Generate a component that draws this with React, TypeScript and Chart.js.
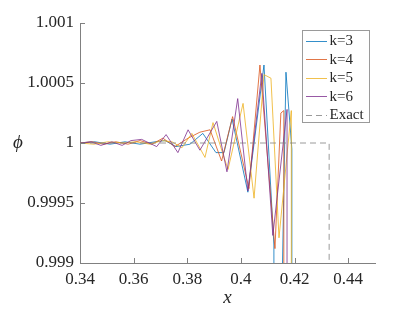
import { useEffect, useRef } from 'react';
import { Chart, registerables } from 'chart.js';
Chart.register(...registerables);

const FONT = '"Liberation Serif", "Times New Roman", serif';
const AXIS = '#808080';
const TEXT = '#262626';

const xTickValues = [0.34, 0.36, 0.38, 0.40, 0.42, 0.44];
const xTickLabels = ['0.34', '0.36', '0.38', '0.4', '0.42', '0.44'];
const yTickValues = [0.999, 0.9995, 1, 1.0005, 1.001];
const yTickLabels = ['0.999', '0.9995', '1', '1.0005', '1.001'];

const seriesNames = ['k=3', 'k=4', 'k=5', 'k=6', 'Exact'];
const seriesColors = ['#0072BD', '#D95319', '#EDB120', '#7E2F8E', '#808080'];

const k3X = [0.3400, 0.3456, 0.3512, 0.3568, 0.3624, 0.3680, 0.3717, 0.3758, 0.3810, 0.3858, 0.3907, 0.3937, 0.3967, 0.4026, 0.4086, 0.4123, 0.4134, 0.4147, 0.4168, 0.4190, 0.4198];
const k3Y = [1.0, 1.00001, 0.99999, 1.00001, 0.99999, 1.00001, 1.00002, 0.99997, 0.99999, 1.00008, 0.99992, 0.99992, 1.0002, 0.99959, 1.00065, 0.99915, 0, 0.998, 1.00059, 0.99995, 0];

const k4X = [0.3400, 0.3445, 0.3489, 0.3534, 0.3579, 0.3624, 0.3668, 0.3709, 0.3754, 0.3803, 0.3847, 0.3885, 0.3928, 0.3969, 0.4030, 0.4071, 0.4127, 0.4149, 0.4160, 0.4164];
const k4Y = [1.0, 1.00001, 0.99999, 1.00001, 0.99999, 1.00002, 0.99999, 1.00004, 0.99997, 1.00004, 1.00009, 1.00011, 0.99985, 1.00022, 0.99962, 1.00065, 0.99912, 1.00025, 1.00027, 0];

const k5X = [0.3400, 0.3452, 0.3504, 0.3557, 0.3609, 0.3661, 0.3706, 0.3743, 0.3780, 0.3817, 0.3866, 0.3896, 0.3937, 0.3952, 0.4008, 0.4049, 0.4086, 0.4112, 0.4142, 0.4188, 0.4196];
const k5Y = [1.0, 0.99999, 1.00001, 1.0, 1.00001, 0.99999, 1.00002, 1.00001, 0.99996, 1.00008, 0.99988, 1.00017, 0.99988, 0.99978, 1.00033, 0.99954, 1.00057, 1.00054, 0.99921, 1.00027, 0];

const k6X = [0.3400, 0.3441, 0.3478, 0.3519, 0.3557, 0.3590, 0.3630, 0.3686, 0.3721, 0.3765, 0.3803, 0.3847, 0.3910, 0.3948, 0.3988, 0.4026, 0.4078, 0.4119, 0.4172, 0.4179];
const k6Y = [1.0, 1.00001, 0.99998, 1.00001, 0.99998, 1.00002, 1.00003, 0.99997, 1.00007, 0.99992, 1.00011, 0.99994, 1.00018, 0.99976, 1.00037, 0.9996, 1.00058, 0.99923, 1.00028, 0];

const exactX = [0.34, 0.4329, 0.4329];
const exactY = [1, 1, 0];

const toPts = (xs: number[], ys: number[]) => xs.map((x, i) => ({ x, y: ys[i] }));

const decor = {
  id: 'decor',
  afterDraw(chart: any) {
    const { ctx, chartArea: a, scales } = chart;
    const x = scales.x;
    const y = scales.y;
    ctx.save();
    ctx.strokeStyle = AXIS;
    ctx.lineWidth = 1;
    ctx.setLineDash([]);
    ctx.beginPath();
    xTickValues.forEach((v) => {
      const px = Math.round(x.getPixelForValue(v)) + 0.5;
      ctx.moveTo(px, a.bottom);
      ctx.lineTo(px, a.bottom - 5);
    });
    yTickValues.forEach((v) => {
      const py = Math.round(y.getPixelForValue(v)) + 0.5;
      ctx.moveTo(a.left, py);
      ctx.lineTo(a.left + 5, py);
    });
    ctx.stroke();

    ctx.fillStyle = TEXT;
    ctx.font = `italic 19px ${FONT}`;
    ctx.textAlign = 'center';
    ctx.textBaseline = 'middle';
    ctx.fillText('x', (a.left + a.right) / 2, 298);
    ctx.fillText('ϕ', 18, (a.top + a.bottom) / 2);

    // legend
    const L = 302.5, T = 30.5, R = 369.5, B = 122.5;
    ctx.fillStyle = '#ffffff';
    ctx.fillRect(L, T, R - L, B - T);
    ctx.strokeStyle = '#9a9a9a';
    ctx.lineWidth = 1;
    ctx.strokeRect(L, T, R - L, B - T);
    ctx.font = `15px ${FONT}`;
    ctx.textAlign = 'left';
    ctx.textBaseline = 'middle';
    seriesNames.forEach((name, i) => {
      const cy = 41 + i * 18.4;
      ctx.strokeStyle = seriesColors[i];
      ctx.lineWidth = 0.8;
      ctx.setLineDash(i === 4 ? [6, 4] : []);
      ctx.beginPath();
      ctx.moveTo(306, Math.round(cy) + 0.5);
      ctx.lineTo(327, Math.round(cy) + 0.5);
      ctx.stroke();
      ctx.setLineDash([]);
      ctx.fillStyle = TEXT;
      ctx.fillText(name, 329.5, cy + 0.5);
    });
    ctx.restore();
  },
};

export default function App() {
  const ref = useRef<HTMLCanvasElement>(null);
  useEffect(() => {
    const seriesData = [toPts(k3X, k3Y), toPts(k4X, k4Y), toPts(k5X, k5Y), toPts(k6X, k6Y), toPts(exactX, exactY)];
    const datasets = seriesData.map((d, i) => ({
      label: seriesNames[i],
      data: d,
      borderColor: seriesColors[i],
      backgroundColor: seriesColors[i],
      borderWidth: 0.8,
      borderDash: i === 4 ? [6, 4] : [],
      pointRadius: 0,
      tension: 0,
      fill: false,
      order: 4 - i,
    }));
    const chart = new Chart(ref.current!, {
      type: 'line',
      data: { datasets },
      plugins: [decor],
      options: {
        animation: false,
        responsive: false,
        devicePixelRatio: 1,
        layout: { padding: { left: 0, right: 40, top: 23, bottom: 0 } },
        plugins: { legend: { display: false }, tooltip: { enabled: false } },
        scales: {
          x: {
            type: 'linear',
            min: 0.34,
            max: 0.45,
            afterBuildTicks: (s: any) => { s.ticks = xTickValues.map((v) => ({ value: v })); },
            afterFit: (s: any) => { s.height = 49; },
            ticks: {
              autoSkip: false,
              maxRotation: 0,
              padding: 6,
              color: TEXT,
              font: { family: FONT, size: 17 },
              callback: (_v: any, i: number) => xTickLabels[i],
            },
            grid: { display: false, drawTicks: false },
            border: { display: true, color: AXIS, width: 1 },
          },
          y: {
            type: 'linear',
            min: 0.999,
            max: 1.001,
            afterBuildTicks: (s: any) => { s.ticks = yTickValues.map((v) => ({ value: v })); },
            afterFit: (s: any) => { s.width = 80; },
            ticks: {
              autoSkip: false,
              padding: 6,
              color: TEXT,
              font: { family: FONT, size: 17 },
              callback: (_v: any, i: number) => yTickLabels[i],
            },
            grid: { display: false, drawTicks: false },
            border: { display: true, color: AXIS, width: 1 },
          },
        },
      },
    } as any);
    return () => chart.destroy();
  }, []);
  return (
    <div style={{ position: 'fixed', left: 0, top: 0, width: 415, height: 312, background: '#fff' }}>
      <canvas ref={ref} width={415} height={312} style={{ display: 'block', width: 415, height: 312 }} />
    </div>
  );
}
